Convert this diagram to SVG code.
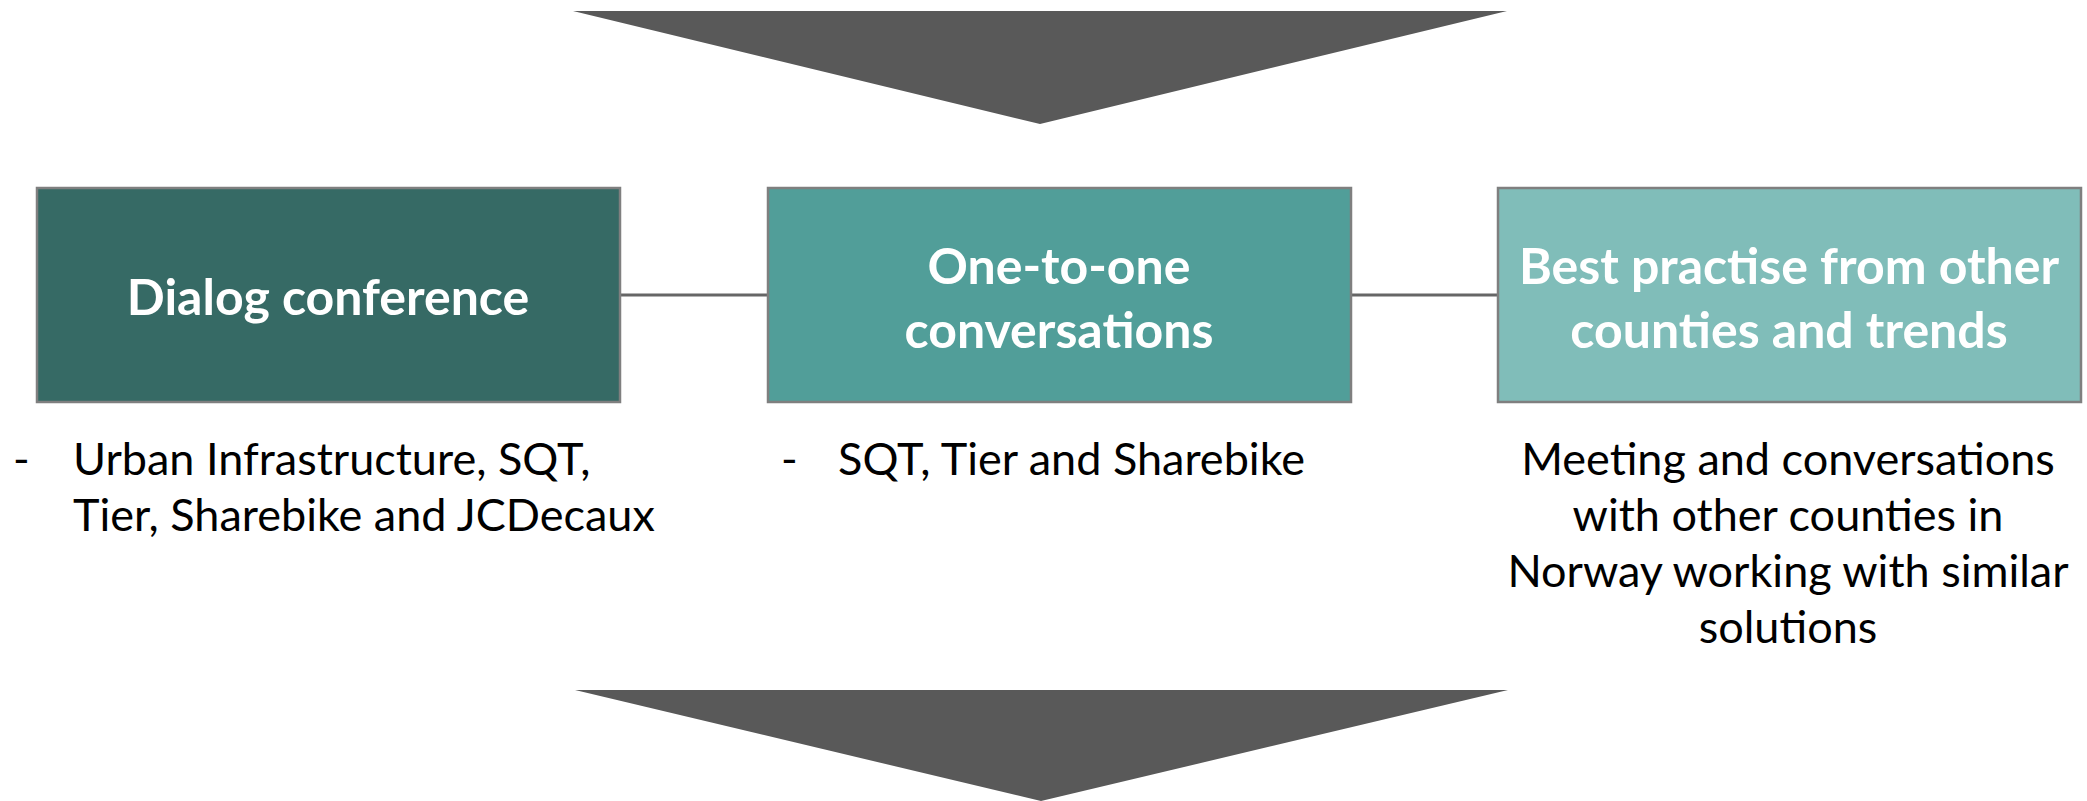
<svg xmlns="http://www.w3.org/2000/svg" width="2087" height="801" viewBox="0 0 2087 801">
<style>
.box{stroke:#7f7f7f;stroke-width:2.5}
.title{font-family:Lato,"Open Sans","Liberation Sans",sans-serif;font-weight:bold;font-size:50px;fill:#ffffff;text-anchor:middle}
.body{font-family:Lato,"Open Sans","Liberation Sans",sans-serif;font-size:45px;fill:#000000}
.mid{text-anchor:middle}
.conn{stroke:#666666;stroke-width:3;fill:none}
.arrow{fill:#595959}
</style>
<rect width="2087" height="801" fill="#ffffff"/>
<g id="arrow-top"><polygon class="arrow" points="573,11 1507,11 1040,124"/></g>
<g id="arrow-bottom"><polygon class="arrow" points="575,690 1508,690 1041,801"/></g>
<g id="connectors">
<line class="conn" x1="620" y1="295" x2="767" y2="295"/>
<line class="conn" x1="1351" y1="295" x2="1497" y2="295"/>
</g>
<g id="node-dialog">
<rect class="box" x="37" y="188" width="583" height="214" fill="#366a65"/>
<text class="title" x="328" y="315">Dialog conference</text>
</g>
<g id="node-onetoone">
<rect class="box" x="768" y="188" width="583" height="214" fill="#519e99"/>
<text class="title" x="1059" y="284">One-to-one</text>
<text class="title" x="1059" y="348">conversations</text>
</g>
<g id="node-bestpractise">
<rect class="box" x="1498" y="188" width="583" height="214" fill="#80bdb9"/>
<text class="title" x="1789" y="284">Best practise from other</text>
<text class="title" x="1789" y="348">counties and trends</text>
</g>
<g id="text-dialog">
<text class="body" x="13" y="475">-</text>
<text class="body" x="73" y="475">Urban Infrastructure, SQT,</text>
<text class="body" x="73" y="531">Tier, Sharebike and JCDecaux</text>
</g>
<g id="text-onetoone">
<text class="body" x="781" y="475">-</text>
<text class="body" x="838" y="475">SQT, Tier and Sharebike</text>
</g>
<g id="text-bestpractise">
<text class="body mid" x="1788" y="475">Meeting and conversations</text>
<text class="body mid" x="1788" y="531">with other counties in</text>
<text class="body mid" x="1788" y="587">Norway working with similar</text>
<text class="body mid" x="1788" y="643">solutions</text>
</g>
</svg>
